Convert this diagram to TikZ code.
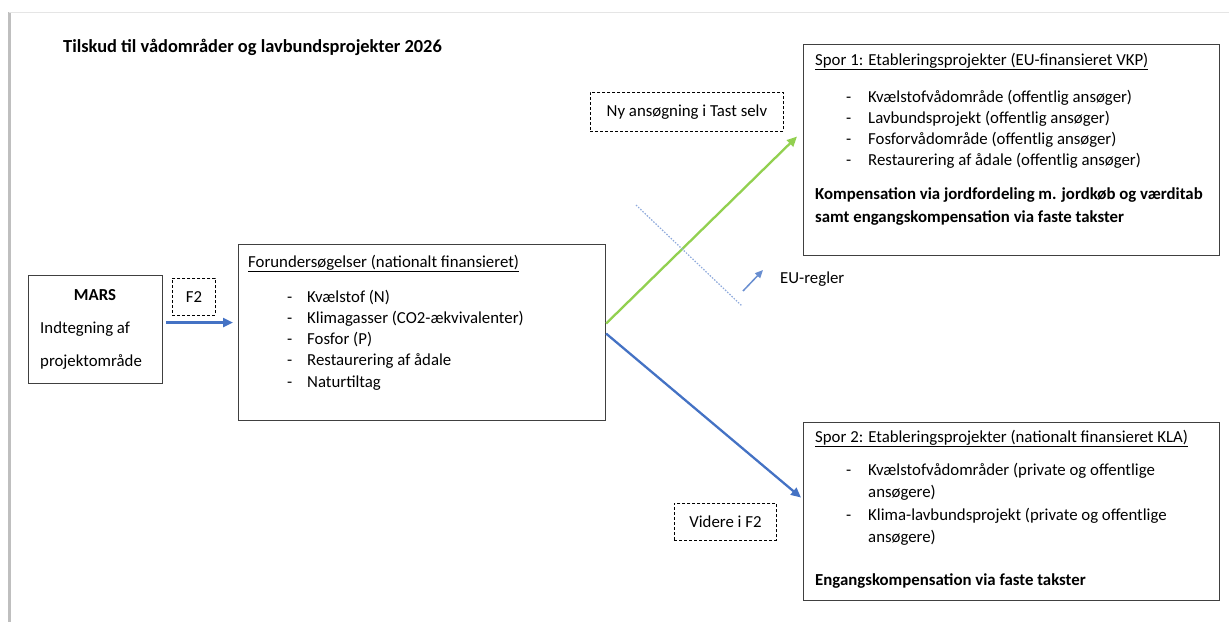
\documentclass[tikz,border=0pt]{standalone}
\usepackage{fontspec}
\setmainfont{Carlito}
\usepackage{tikz}
\usetikzlibrary{positioning, arrows.meta}

\definecolor{sporgreen}{HTML}{92D050}
\definecolor{sporblue}{HTML}{4472C4}
\definecolor{eublue}{HTML}{8FAADC}

\tikzset{
  box/.style={draw=black!75, line width=1.1pt, anchor=north west, inner sep=0pt},
  dashbox/.style={draw=black, dash pattern=on 3pt off 2pt, line width=0.9pt, anchor=north west, inner sep=0pt, align=center},
  txt/.style={anchor=base west, inner sep=0pt},
  boldtxt/.style={txt, font=\fontsize{16.8}{20}\selectfont\bfseries},
  conn/.style={line width=2.3pt, -{Triangle[length=10pt,width=9pt]}},
}

\begin{document}
\begin{tikzpicture}[x=1pt, y=-1pt, font=\fontsize{16.8}{20}\selectfont]
    \useasboundingbox (0,0) rectangle (1229,622);
    % page edge
    \draw[black!25, line width=3pt] (9,12) -- (9,622);
    \draw[black!10, line width=1pt] (9,12) -- (1229,12);

    \node[boldtxt, font=\fontsize{18.4}{22}\selectfont\bfseries] (title) at (63,52) {Tilskud til vådområder og lavbundsprojekter 2026};

    % MARS
    \node[box, minimum width=134pt, minimum height=108pt] (mars) at (28,275) {};
    \node[boldtxt, anchor=base] (marshead) at (95,300) {MARS};
    \node[txt] (mars1) at (40,333) {Indtegning af};
    \node[txt] (mars2) at (40,366) {projektområde};
    \node[dashbox, minimum width=43pt, minimum height=37pt] (f2) at (172,278) {F2};

    % forundersoegelser
    \node[box, minimum width=367pt, minimum height=176pt] (fors) at (238,244) {};
    \node[txt] (forshead) at (248,267) {\underline{Forundersøgelser (nationalt finansieret)}};
    \foreach \t [count=\i] in {Kvælstof (N), Klimagasser (CO2-ækvivalenter), Fosfor (P), Restaurering af ådale, Naturtiltag} {
        \node[txt] (fd\i) at (287, 281+21.2*\i) {-};
        \node[txt] (fi\i) at (307, 281+21.2*\i) {\t};
    }

    % spor 1
    \node[box, minimum width=416pt, minimum height=211pt] (spor1) at (803,44) {};
    \node[txt] (s1head) at (815,65) {\underline{Spor 1: Etableringsprojekter (EU-finansieret VKP)}};
    \foreach \t [count=\i] in {Kvælstofvådområde (offentlig ansøger), Lavbundsprojekt (offentlig ansøger), Fosforvådområde (offentlig ansøger), Restaurering af ådale (offentlig ansøger)} {
        \node[txt] (s1d\i) at (846, 81+21*\i) {-};
        \node[txt] (s1i\i) at (868, 81+21*\i) {\t};
    }
    \node[boldtxt] (s1b1) at (815,199) {Kompensation via jordfordeling m. jordkøb og værditab};
    \node[boldtxt] (s1b2) at (815,222) {samt engangskompensation via faste takster};

    % spor 2
    \node[box, minimum width=416pt, minimum height=178pt] (spor2) at (803,422) {};
    \node[txt] (s2head) at (815,442) {\underline{Spor 2: Etableringsprojekter (nationalt finansieret KLA)}};
    \node[txt] (s2d1) at (846,475) {-};
    \node[txt] (s2i1) at (868,475) {Kvælstofvådområder (private og offentlige};
    \node[txt] (s2i1b) at (868,497) {ansøgere)};
    \node[txt] (s2d2) at (846,520) {-};
    \node[txt] (s2i2) at (868,520) {Klima-lavbundsprojekt (private og offentlige};
    \node[txt] (s2i2b) at (868,542) {ansøgere)};
    \node[boldtxt] (s2b) at (815,585) {Engangskompensation via faste takster};

    % labels on the branches
    \node[dashbox, minimum width=193pt, minimum height=39pt] (ny) at (590,92) {Ny ansøgning i Tast selv};
    \node[dashbox, minimum width=102pt, minimum height=37pt] (videre) at (674,503) {Videre i F2};
    \node[txt] (eu) at (780,283) {EU-regler};

    % connectors
    \coordinate (a1) at ([xshift=3pt,yshift=7pt]mars.east);
    \draw[conn, sporblue] (a1) -- ([xshift=-5pt]a1 -| fors.west);
    \draw[conn, sporgreen] ([yshift=9pt]fors.east) -- ([xshift=-6pt,yshift=13.5pt]spor1.west);
    \draw[conn, sporblue] ([yshift=-1pt]fors.east) -- ([xshift=-2pt,yshift=14pt]spor2.west);

    % EU border
    \coordinate (d1) at (636,205);
    \coordinate (d2) at (742,306);
    \draw[eublue, line width=1.2pt, dash pattern=on 1.5pt off 1.5pt] (d1) -- (d2);
    \coordinate (e1) at (743,291);
    \coordinate (e2) at (763,270);
    \draw[sporblue!80, line width=1.5pt, -{Triangle[length=8pt,width=7pt]}] (e1) -- (e2);
\end{tikzpicture}
\end{document}
